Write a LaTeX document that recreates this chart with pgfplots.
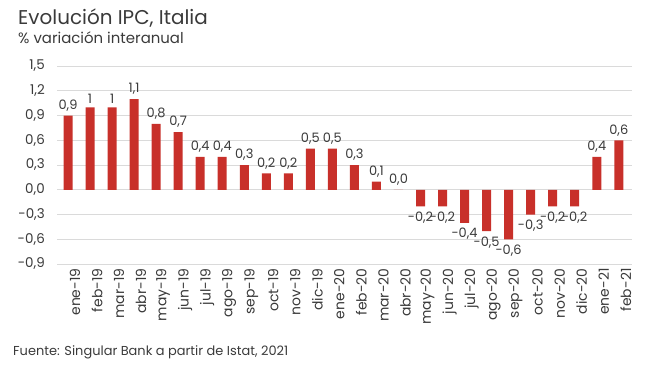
\documentclass[border=0pt]{standalone}
\usepackage{fontspec}
\setmainfont{Poppins}
\usepackage{pgfplots}
\pgfplotsset{compat=1.18}
\usepackage{pgfplotstable}
\definecolor{barred}{HTML}{C8302A}
\definecolor{txt}{HTML}{3A3A3A}
\definecolor{gridc}{HTML}{DADADA}
\pgfplotstableread{
x y lab
0 0.9 0,9
1 1.0 1
2 1.0 1
3 1.1 1,1
4 0.8 0,8
5 0.7 0,7
6 0.4 0,4
7 0.4 0,4
8 0.3 0,3
9 0.2 0,2
10 0.2 0,2
11 0.5 0,5
12 0.5 0,5
13 0.3 0,3
14 0.1 0,1
15 0.0 0,0
24 0.4 0,4
25 0.6 0,6
}\posdata
\pgfplotstableread{
x y lab
16 -0.2 -0,2
17 -0.2 -0,2
18 -0.4 -0,4
19 -0.5 -0,5
20 -0.6 -0,6
21 -0.3 -0,3
22 -0.2 -0,2
23 -0.2 -0,2
}\negdata
\begin{document}
\begin{tikzpicture}[x=1bp,y=1bp]
\useasboundingbox (0,0) rectangle (650,367);
\node[anchor=base west, inner sep=0pt, text=txt, font=\fontsize{20}{23}\selectfont] at (18,343) {Evolución IPC, Italia};
\node[anchor=base west, inner sep=0pt, text=txt, font=\fontsize{15}{18}\selectfont] at (18,324) {\% variación interanual};
\node[anchor=base west, inner sep=0pt, text=txt, font=\fontsize{13}{16}\selectfont] at (13,12) {Fuente: Singular Bank a partir de Istat, 2021};
\begin{axis}[
  at={(57bp,103bp)}, anchor=south west,
  scale only axis, width=575bp, height=198bp,
  xmin=-0.5, xmax=25.6, ymin=-0.9, ymax=1.5,
  ytick={-0.9,-0.6,-0.3,0,0.3,0.6,0.9,1.2,1.5},
  ymajorgrids, grid style={gridc, line width=0.9pt},
  axis line style={draw=none}, major tick style={draw=none},
  xtick={0,...,25},
  xticklabels={ene-19,feb-19,mar-19,abr-19,may-19,jun-19,jul-19,ago-19,sep-19,oct-19,nov-19,dic-19,ene-20,feb-20,mar-20,abr-20,may-20,jun-20,jul-20,ago-20,sep-20,oct-20,nov-20,dic-20,ene-21,feb-21},
  xticklabel style={rotate=90, anchor=east, inner sep=0pt, yshift=-7bp, text=txt, font=\fontsize{14}{16}\selectfont},
  yticklabel style={anchor=east, inner sep=0pt, xshift=-12bp, text=txt, font=\fontsize{13.5}{15}\selectfont},
  /pgf/number format/assume math mode=true,
  /pgf/number format/use comma, /pgf/number format/fixed, /pgf/number format/fixed zerofill, /pgf/number format/precision=1,
  ybar, bar width=9bp, bar shift=0pt,
  point meta=explicit symbolic,
]
\addplot[fill=barred, draw=none, nodes near coords,
  every node near coord/.append style={anchor=south, text=txt, font=\fontsize{13}{15}\selectfont, inner sep=4pt}]
  table[x=x, y=y, meta=lab] {\posdata};
\addplot[fill=barred, draw=none, nodes near coords,
  every node near coord/.append style={anchor=north, text=txt, font=\fontsize{13}{15}\selectfont, inner sep=5.5pt}]
  table[x=x, y=y, meta=lab] {\negdata};
\end{axis}
\end{tikzpicture}
\end{document}
